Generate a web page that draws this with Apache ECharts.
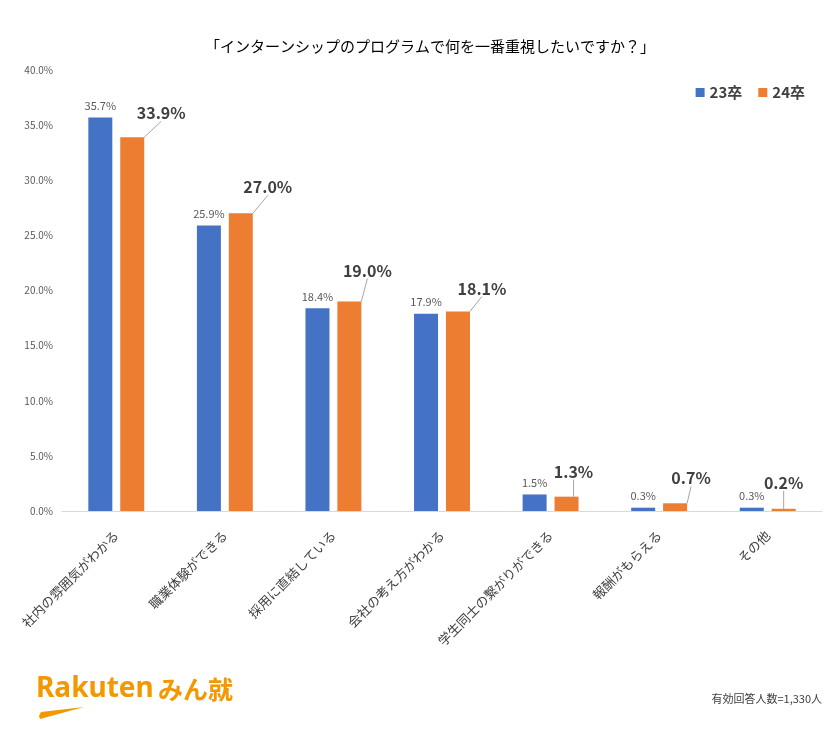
<!DOCTYPE html>
<html>
<head>
<meta charset="utf-8">
<script src="https://cdn.jsdelivr.net/npm/echarts@6/dist/echarts.min.js"></script>
<style>
  html, body { margin: 0; padding: 0; background: #fff; }
  #chart { width: 840px; height: 751px; }
</style>
</head>
<body>
<div id="chart"></div>
<script>
// 設問の選択肢
var categories = ['社内の雰囲気がわかる', '職業体験ができる', '採用に直結している', '会社の考え方がわかる', '学生同士の繋がりができる', '報酬がもらえる', 'その他'];
var series23 = [35.7, 25.9, 18.4, 17.9, 1.5, 0.3, 0.3];
var series24 = [33.9, 27.0, 19.0, 18.1, 1.3, 0.7, 0.2];
var seriesNames = ['23卒', '24卒'];
var yTicks = [0, 5, 10, 15, 20, 25, 30, 35, 40];

// 24卒ラベルのずらし量 (dx, dy)
var labelShift24 = [[29, -10], [27, -12], [18, -17], [24, -9], [7, -11], [16, -11], [0, -12]];

var font = '"Noto Sans CJK JP", "Noto Sans", sans-serif';

var myChart = echarts.init(document.getElementById('chart'));

var option = {
    backgroundColor: '#fff',
    animation: false,
    textStyle: { fontFamily: font },
    title: {
        text: '「インターンシップのプログラムで何を一番重視したいですか？」',
        left: 425,
        textAlign: 'center',
        top: 34,
        textStyle: { fontSize: 15, fontWeight: 'normal', color: '#000', fontFamily: font }
    },
    legend: {
        data: seriesNames,
        right: 30,
        top: 80,
        itemWidth: 9,
        itemHeight: 9,
        itemGap: 16,
        icon: 'rect',
        textStyle: { fontSize: 15, fontWeight: 'bold', color: '#404040', fontFamily: font }
    },
    grid: { left: 62, right: 18, top: 70, bottom: 240 },
    xAxis: {
        type: 'category',
        data: categories,
        axisLine: { lineStyle: { color: '#d9d9d9' } },
        axisTick: { show: false },
        axisLabel: { rotate: 45, fontSize: 13, color: '#404040', margin: 22, interval: 0, fontFamily: font }
    },
    yAxis: {
        type: 'value',
        min: yTicks[0],
        max: yTicks[yTicks.length - 1],
        interval: 5,
        splitLine: { show: false },
        axisLine: { show: false },
        axisTick: { show: false },
        axisLabel: {
            fontSize: 10,
            color: '#595959',
            margin: 9,
            formatter: function (v) { return v.toFixed(1) + '%'; }
        }
    },
    series: [
        {
            name: seriesNames[0],
            type: 'bar',
            data: series23,
            barWidth: 24,
            barGap: '33%',
            itemStyle: { color: '#4472c4' },
            label: {
                show: true,
                position: 'top',
                distance: 6,
                fontSize: 11,
                color: '#595959',
                formatter: function (p) { return p.value.toFixed(1) + '%'; }
            }
        },
        {
            name: seriesNames[1],
            type: 'bar',
            data: series24,
            barWidth: 24,
            itemStyle: { color: '#ed7d31' },
            label: {
                show: true,
                position: 'top',
                distance: 6,
                fontSize: 16,
                fontWeight: 'bold',
                color: '#404040',
                formatter: function (p) { return p.value.toFixed(1) + '%'; }
            },
            labelLine: { show: true, lineStyle: { color: '#a6a6a6', width: 1 } },
            labelLayout: function (params) {
                var s = labelShift24[params.dataIndex];
                return { dx: s[0], dy: s[1] };
            }
        }
    ],
    graphic: [
        {
            type: 'text',
            left: 36,
            top: 675,
            style: {
                text: 'Rakuten',
                fill: '#f39800',
                font: 'bold 28px "Noto Sans", sans-serif'
            }
        },
        {
            type: 'text',
            left: 158,
            top: 677,
            style: {
                text: 'みん就',
                fill: '#f39800',
                font: 'bold 25px "Noto Sans CJK JP", sans-serif'
            }
        },
        {
            type: 'polygon',
            shape: { points: [[39, 716], [41, 712], [84, 707], [40, 719]] },
            style: { fill: '#f39800' }
        },
        {
            type: 'text',
            right: 18,
            top: 693,
            style: {
                text: '有効回答人数=1,330人',
                fill: '#404040',
                font: '11px "Noto Sans CJK JP", sans-serif'
            }
        }
    ]
};

myChart.setOption(option);
</script>
</body>
</html>
